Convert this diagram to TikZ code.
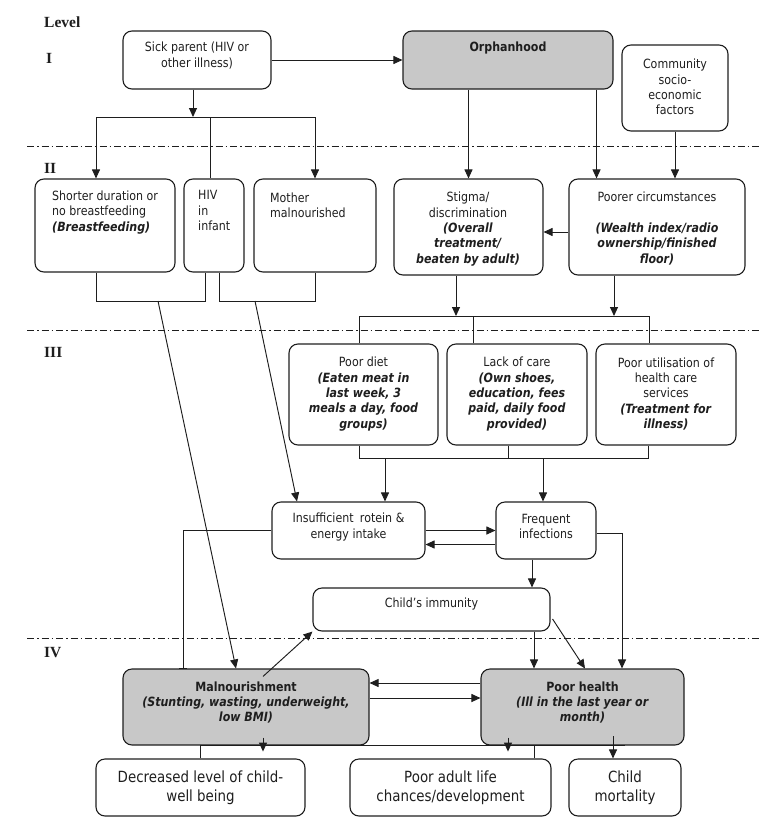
\documentclass[tikz,border=0pt]{standalone}
\usepackage{fontspec}
\setmainfont{DejaVu Sans}[FakeStretch=0.87]
\newfontfamily\lvlfont{Liberation Serif}
\usetikzlibrary{arrows.meta}

\definecolor{boxgray}{RGB}{200,200,200}
\definecolor{ink}{RGB}{30,30,30}
\newcommand{\bitxt}[1]{\textbf{\textit{#1}}}

\tikzset{
  box/.style={draw=ink, rounded corners=9pt, line width=1.1pt, inner sep=0pt},
  gbox/.style={box, fill=boxgray},
  txt/.style={font=\fontsize{12.7}{15.4}\selectfont, align=center, inner sep=0pt, text=ink},
  ltxt/.style={txt, align=left, anchor=west},
  bigtxt/.style={txt, font=\fontsize{15.4}{18.5}\selectfont},
  lvl/.style={font=\lvlfont\bfseries\fontsize{15.5}{18}\selectfont, anchor=west, inner sep=0pt, text=ink},
  con/.style={draw=ink, line width=0.95pt},
  arr/.style={con, -{Triangle[length=9pt,width=8pt]}},
  sep/.style={draw=ink, line width=0.9pt, dash pattern=on 7pt off 3pt on 1.5pt off 3pt}
}

\begin{document}
\begin{tikzpicture}[x=1pt,y=-1pt]
\useasboundingbox (0,0) rectangle (781,828);

% level labels and separators
\node[lvl] (lvl0) at (44,22) {Level};
\node[lvl] (lvl1) at (46,58) {I};
\node[lvl] (lvl2) at (44,168) {II};
\node[lvl] (lvl3) at (44,352) {III};
\node[lvl] (lvl4) at (44,653) {IV};
\draw[sep] (27,146) -- (760,146);
\draw[sep] (27,330) -- (760,330);
\draw[sep] (27,638) -- (760,638);

% level I
\node[box, minimum width=148pt, minimum height=58pt] (sick) at (197,60) {};
\node[gbox, minimum width=210pt, minimum height=58pt] (orph) at (508,60) {};
\node[box, minimum width=106pt, minimum height=86pt] (comm) at (675,88) {};
\node[txt] (sickT) at (197,55.5) {Sick parent (HIV or\\other illness)};
\node[txt] (orphT) at (508,48) {\textbf{Orphanhood}};
\node[txt] (commT) at (675,87) {Community\\socio-\\economic\\factors};

% level II
\node[box, minimum width=140pt, minimum height=93pt] (shorter) at (105,225.5) {};
\node[box, minimum width=60pt, minimum height=93pt] (hiv) at (214,225.5) {};
\node[box, minimum width=122pt, minimum height=93pt] (mother) at (315,225.5) {};
\node[box, minimum width=149pt, minimum height=96pt] (stigma) at (468.5,227) {};
\node[box, minimum width=176pt, minimum height=96pt] (poorer) at (657,227) {};
\node[ltxt] (shorterT) at (52,212.5) {Shorter duration or\\no breastfeeding\\\bitxt{(Breastfeeding)}};
\node[ltxt] (hivT) at (198,210.5) {HIV\\in\\infant};
\node[ltxt] (motherT) at (270,205.5) {Mother\\malnourished};
\node[txt] (stigmaT) at (468,229) {Stigma/\\discrimination\\\bitxt{(Overall}\\\bitxt{treatment/}\\\bitxt{beaten by adult)}};
\node[txt] (poorerT) at (657,228.5) {Poorer circumstances\\[15.4pt]\bitxt{(Wealth index/radio}\\\bitxt{ownership/finished}\\\bitxt{floor)}};

% level III
\node[box, minimum width=149pt, minimum height=101pt] (diet) at (363.5,394.5) {};
\node[box, minimum width=140pt, minimum height=101pt] (care) at (517,394.5) {};
\node[box, minimum width=140pt, minimum height=101pt] (util) at (666,394.5) {};
\node[txt] (dietT) at (363.5,394) {Poor diet\\\bitxt{(Eaten meat in}\\\bitxt{last week, 3}\\\bitxt{meals a day, food}\\\bitxt{groups)}};
\node[txt] (careT) at (517,394) {Lack of care\\\bitxt{(Own shoes,}\\\bitxt{education, fees}\\\bitxt{paid, daily food}\\\bitxt{provided)}};
\node[txt] (utilT) at (666,394) {Poor utilisation of\\health care\\services\\\bitxt{(Treatment for}\\\bitxt{illness)}};

\node[box, minimum width=153pt, minimum height=57pt] (insuf) at (348.5,530.5) {};
\node[box, minimum width=100pt, minimum height=57pt] (freq) at (546,530.5) {};
\node[box, minimum width=237pt, minimum height=43pt] (immun) at (431.5,609.5) {};
\node[txt] (insufT) at (348.5,527) {Insufficient\enspace rotein \&\\energy intake};
\node[txt] (freqT) at (546,526.5) {Frequent\\infections};
\node[txt] (immunT) at (431.5,604) {Child’s immunity};

% level IV
\node[gbox, minimum width=246pt, minimum height=76pt] (maln) at (246,707) {};
\node[gbox, minimum width=203pt, minimum height=76pt] (health) at (582.5,707) {};
\node[txt] (malnT) at (246,702.5) {\textbf{Malnourishment}\\\bitxt{(Stunting, wasting, underweight,}\\\bitxt{low BMI)}};
\node[txt] (healthT) at (582.5,702.5) {\textbf{Poor health}\\\bitxt{(Ill in the last year or}\\\bitxt{month)}};

\node[box, minimum width=209pt, minimum height=57pt] (decr) at (200.5,787.5) {};
\node[box, minimum width=201pt, minimum height=57pt] (adult) at (450.5,787.5) {};
\node[box, minimum width=112pt, minimum height=57pt] (mort) at (625,787.5) {};
\node[bigtxt] (decrT) at (200.5,787.5) {Decreased level of child-\\well being};
\node[bigtxt] (adultT) at (450.5,787.5) {Poor adult life\\chances/development};
\node[bigtxt] (mortT) at (625,787.5) {Child\\mortality};

% level I -> II
\coordinate (busA) at (193,117);
\draw[arr] (sick) -- (orph);
\draw[arr] (busA |- sick.south) -- (busA);
\draw[arr] (busA) -| ([xshift=-9pt]shorter.north);
\draw[con] (busA) -| ([xshift=-4pt]hiv.north);
\draw[arr] (busA) -| (mother.north);
\draw[arr] (orph.south -| stigma.north) -- (stigma.north);
\draw[arr] ([xshift=-17pt]orph.south east) -- ([xshift=-17pt]orph.south east |- poorer.north);
\draw[arr] (comm.south) -- (comm.south |- poorer.north);
\draw[arr] ([yshift=-5pt]poorer.west) -- ([yshift=-5pt]poorer.west -| stigma.east);

% level II -> III
\coordinate (brA) at (158,301);
\coordinate (brB) at (255,301);
\draw[con] ([xshift=-9pt]shorter.south) |- ([xshift=-9pt]hiv.south |- brA) -- ([xshift=-9pt]hiv.south);
\draw[con] ([xshift=5pt]hiv.south) |- (mother.south |- brB) -- (mother.south);
\draw[arr] (brA) -- ([xshift=-10pt]maln.north);
\draw[arr] (brB) -- ([xshift=-51.5pt]insuf.north);

\coordinate (stA) at (456,316);
\coordinate (stB) at (614,316);
\draw[arr] (stA |- stigma.south) -- (stA);
\draw[arr] (stB |- poorer.south) -- (stB);
\draw[con] ([xshift=-4.5pt]diet.north) |- ([xshift=-17pt]util.north |- stA) -- ([xshift=-17pt]util.north);
\draw[con] ([xshift=-44pt]care.north) -- ([xshift=-44pt]care.north |- stA);

% level III
\coordinate (dgA) at (385,458);
\coordinate (dgB) at (543,458);
\draw[con] ([xshift=-4.5pt]diet.south) |- ([xshift=-18pt]util.south |- dgA) -- ([xshift=-18pt]util.south);
\draw[con] ([xshift=-9pt]care.south) -- ([xshift=-9pt]care.south |- dgA);
\draw[arr] (dgA) -- (dgA |- insuf.north);
\draw[arr] (dgB) -- (dgB |- freq.north);

\draw[arr] (insuf.east) -- (insuf.east -| freq.west);
\draw[arr] ([yshift=-14pt]freq.west) -- ([yshift=-14pt]freq.west -| insuf.east);
\draw[con, -{Bar[width=8pt]}] (insuf.west) -| ([xshift=-63pt]maln.north);
\draw[arr] ([xshift=-14pt]freq.south) -- ([xshift=-14pt]freq.south |- immun.north);
\draw[arr] ([yshift=-2.5pt]freq.east) -| ([xshift=39.5pt]health.north);
\draw[arr] ([xshift=-48.5pt]health.north |- immun.south) -- ([xshift=-48.5pt]health.north);
\draw[arr] ([shift={(2pt,-9.5pt)}]immun.east) -- ([xshift=2.5pt]health.north);
\draw[arr] ([shift={(17pt,-8pt)}]maln.north) -- (immun.south west);

% level IV
\draw[arr] ([yshift=24pt]health.west) -- ([yshift=24pt]health.west -| maln.east);
\draw[arr] ([yshift=9pt]maln.east) -- ([yshift=9pt]maln.east -| health.west);
\draw[con] (decr.north) |- (mort.north |- maln.south);
\draw[con] ([xshift=83.5pt]adult.north) -- ([xshift=83.5pt]adult.north |- health.south);
\draw[arr] ([shift={(17pt,8pt)}]maln.south) -- ([shift={(17pt,-6pt)}]maln.south);
\draw[arr] ([shift={(-74.5pt,8pt)}]health.south) -- ([shift={(-74.5pt,-6pt)}]health.south);
\draw[arr] ([shift={(-12pt,22pt)}]mort.north) -- ([xshift=-12pt]mort.north);
\end{tikzpicture}
\end{document}
